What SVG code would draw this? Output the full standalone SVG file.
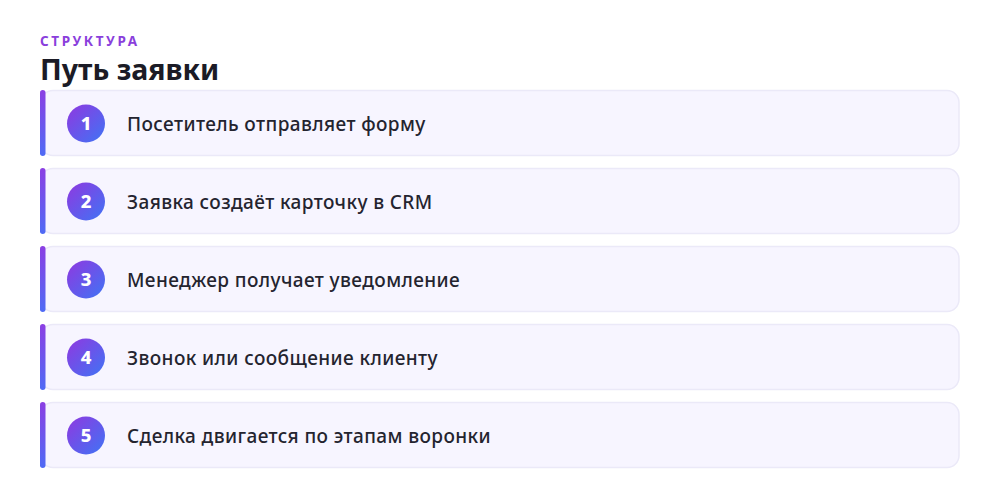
<svg xmlns="http://www.w3.org/2000/svg" width="1000" height="500" viewBox="0 0 1000 500">
<defs>
<linearGradient id="bar" x1="0" y1="0" x2="0" y2="1">
<stop offset="0" stop-color="#8b3fe3"/>
<stop offset="1" stop-color="#4f6bf5"/>
</linearGradient>
<linearGradient id="dot" x1="0" y1="0" x2="1" y2="1">
<stop offset="0" stop-color="#9038e0"/>
<stop offset="1" stop-color="#3f74f5"/>
</linearGradient>
<style>
.card{fill:#f7f5ff;stroke:#ebe9f8;stroke-width:1.5}
.bar{fill:url(#bar)}
.dot{fill:url(#dot)}
.num{font-family:"Noto Sans","Open Sans",sans-serif;font-weight:800;font-size:18.5px;fill:#ffffff;text-anchor:middle}
.lbl{font-family:"Noto Sans","Open Sans",sans-serif;font-weight:500;font-size:19px;letter-spacing:0.4px;fill:#24242f}
.kicker{font-family:"Noto Sans","Open Sans",sans-serif;font-weight:700;font-size:13.5px;letter-spacing:2.6px;fill:#8a3fdc}
.title{font-family:"Noto Sans","Open Sans",sans-serif;font-weight:700;font-size:28.5px;fill:#1b1b26}
</style>
</defs>
<rect width="1000" height="500" fill="#ffffff"/>
<text class="kicker" x="40" y="46">СТРУКТУРА</text>
<text class="title" x="40" y="80">Путь заявки</text>
<g id="step1">
<rect class="card" x="41" y="90.5" width="918" height="65" rx="12"/>
<rect class="bar" x="40" y="90" width="5.5" height="66" rx="2.75"/>
<circle class="dot" cx="86" cy="123.5" r="19"/>
<text class="num" x="86" y="130">1</text>
<text class="lbl" x="127" y="131">Посетитель отправляет форму</text>
</g>
<g id="step2">
<rect class="card" x="41" y="168.5" width="918" height="65" rx="12"/>
<rect class="bar" x="40" y="168" width="5.5" height="66" rx="2.75"/>
<circle class="dot" cx="86" cy="201.5" r="19"/>
<text class="num" x="86" y="208">2</text>
<text class="lbl" x="127" y="209">Заявка создаёт карточку в CRM</text>
</g>
<g id="step3">
<rect class="card" x="41" y="246.5" width="918" height="65" rx="12"/>
<rect class="bar" x="40" y="246" width="5.5" height="66" rx="2.75"/>
<circle class="dot" cx="86" cy="279.5" r="19"/>
<text class="num" x="86" y="286">3</text>
<text class="lbl" x="127" y="287">Менеджер получает уведомление</text>
</g>
<g id="step4">
<rect class="card" x="41" y="324.5" width="918" height="65" rx="12"/>
<rect class="bar" x="40" y="324" width="5.5" height="66" rx="2.75"/>
<circle class="dot" cx="86" cy="357.5" r="19"/>
<text class="num" x="86" y="364">4</text>
<text class="lbl" x="127" y="365">Звонок или сообщение клиенту</text>
</g>
<g id="step5">
<rect class="card" x="41" y="402.5" width="918" height="65" rx="12"/>
<rect class="bar" x="40" y="402" width="5.5" height="66" rx="2.75"/>
<circle class="dot" cx="86" cy="435.5" r="19"/>
<text class="num" x="86" y="442">5</text>
<text class="lbl" x="127" y="443">Сделка двигается по этапам воронки</text>
</g>
<g id="connectors"/>
</svg>
